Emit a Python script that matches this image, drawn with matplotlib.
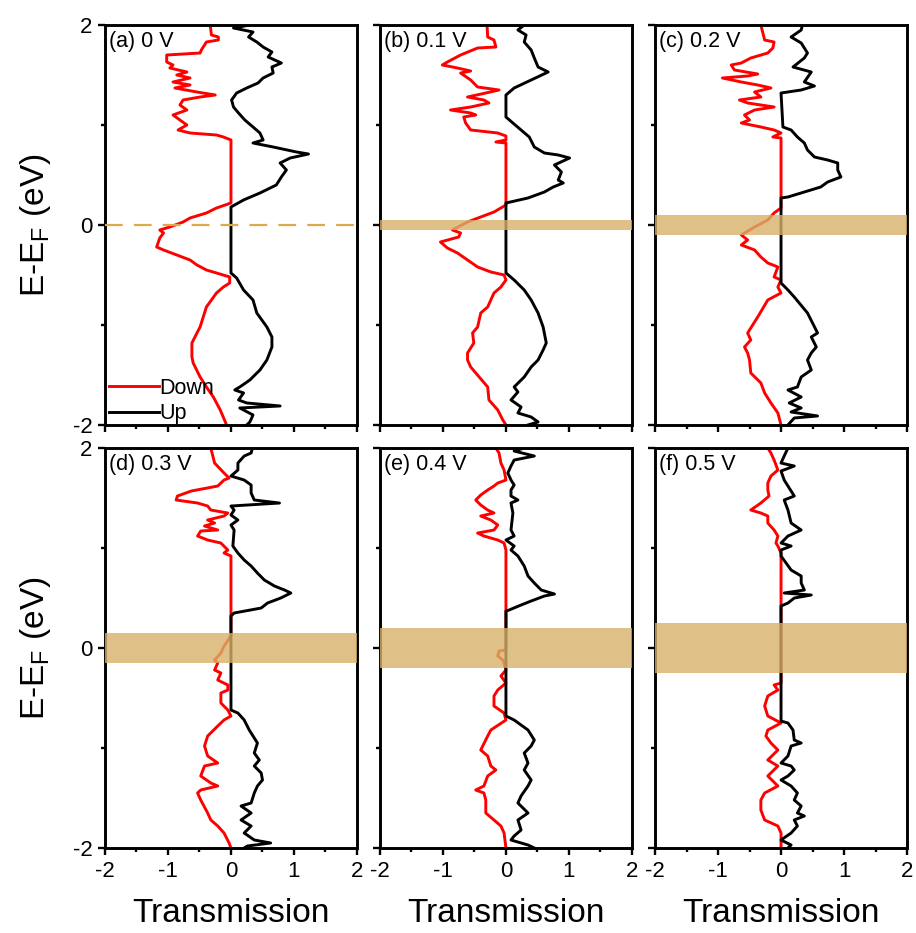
import numpy as np
import matplotlib
matplotlib.use("Agg")
import matplotlib.pyplot as plt
from matplotlib.ticker import MultipleLocator

plt.rcParams["font.family"] = ["Liberation Sans", "DejaVu Sans"]
plt.rcParams["mathtext.fontset"] = "custom"
plt.rcParams["mathtext.rm"] = "Liberation Sans"
plt.rcParams["mathtext.it"] = "Liberation Sans:italic"
plt.rcParams["axes.unicode_minus"] = False

# Bias voltages and panel tags
bias_volts = [0.0, 0.1, 0.2, 0.3, 0.4, 0.5]
panel_tags = ["(a)", "(b)", "(c)", "(d)", "(e)", "(f)"]

# Spin-resolved transmission T(E), stored as (E - E_F [eV], T) pairs.
# Spin-down channel is plotted as negative transmission.
down_a = [(2.00, -0.33), (1.90, -0.31), (1.88, -0.20), (1.85, -0.20), (1.83, -0.39),
          (1.75, -0.47), (1.72, -0.49), (1.70, -1.02), (1.63, -1.02), (1.60, -0.92),
          (1.57, -0.97), (1.53, -0.70), (1.50, -0.86), (1.47, -0.65), (1.43, -0.92),
          (1.40, -0.65), (1.37, -0.89), (1.33, -0.54), (1.30, -0.25), (1.28, -0.49),
          (1.25, -0.76), (1.20, -0.81), (1.15, -0.70), (1.10, -0.92), (1.05, -0.81),
          (1.00, -0.70), (0.95, -0.84), (0.92, -0.65), (0.90, -0.23), (0.88, -0.12),
          (0.85, 0.00), (0.22, 0.00), (0.17, -0.23), (0.12, -0.39), (0.07, -0.65),
          (0.03, -0.76), (-0.02, -0.97), (-0.05, -1.13), (-0.08, -1.07), (-0.13, -1.13),
          (-0.22, -1.18), (-0.25, -1.07), (-0.30, -0.86), (-0.35, -0.65), (-0.40, -0.54),
          (-0.45, -0.39), (-0.48, -0.23), (-0.52, -0.02), (-0.58, -0.02), (-0.62, -0.12),
          (-0.68, -0.23), (-0.82, -0.39), (-0.92, -0.44), (-1.02, -0.49), (-1.08, -0.54),
          (-1.18, -0.62), (-1.32, -0.62), (-1.38, -0.60), (-1.52, -0.49), (-1.62, -0.39),
          (-1.72, -0.28), (-1.85, -0.17), (-2.00, -0.07)]
up_a = [(2.00, 0.30), (1.97, 0.04), (1.93, 0.35), (1.88, 0.28), (1.83, 0.41),
        (1.78, 0.51), (1.73, 0.65), (1.68, 0.59), (1.62, 0.80), (1.58, 0.65),
        (1.52, 0.67), (1.47, 0.51), (1.42, 0.43), (1.37, 0.25), (1.32, 0.09),
        (1.25, 0.01), (1.18, 0.04), (1.12, 0.12), (1.05, 0.22), (0.98, 0.35),
        (0.92, 0.46), (0.85, 0.51), (0.82, 0.35), (0.78, 0.67), (0.73, 1.04),
        (0.71, 1.23), (0.67, 0.94), (0.62, 0.78), (0.55, 0.88), (0.48, 0.80),
        (0.40, 0.72), (0.32, 0.46), (0.25, 0.20), (0.18, 0.00), (-0.48, 0.00),
        (-0.53, 0.09), (-0.65, 0.20), (-0.75, 0.35), (-0.88, 0.41), (-1.02, 0.57),
        (-1.12, 0.65), (-1.22, 0.65), (-1.35, 0.57), (-1.45, 0.46), (-1.55, 0.30),
        (-1.62, 0.14), (-1.65, 0.06), (-1.68, 0.20), (-1.75, 0.12), (-1.78, 0.25),
        (-1.81, 0.78), (-1.83, 0.14), (-1.90, 0.35), (-1.97, 0.30), (-2.00, 0.25)]

down_b = [(2.00, -0.30), (1.88, -0.29), (1.85, -0.19), (1.78, -0.16), (1.77, -0.45),
          (1.70, -0.72), (1.63, -0.93), (1.60, -1.01), (1.57, -0.77), (1.54, -0.56),
          (1.52, -0.72), (1.45, -0.56), (1.38, -0.45), (1.35, -0.11), (1.32, -0.32),
          (1.28, -0.61), (1.25, -0.35), (1.22, -0.27), (1.18, -0.56), (1.15, -0.88),
          (1.12, -0.56), (1.10, -0.48), (1.08, -0.67), (1.02, -0.64), (0.95, -0.56),
          (0.92, -0.13), (0.89, 0.00), (0.85, 0.00), (0.83, -0.16), (0.82, 0.00),
          (0.20, 0.00), (0.13, -0.19), (0.08, -0.40), (0.03, -0.61), (-0.05, -0.85),
          (-0.08, -0.72), (-0.12, -0.75), (-0.17, -1.04), (-0.23, -0.93), (-0.28, -0.77),
          (-0.35, -0.61), (-0.42, -0.45), (-0.47, -0.24), (-0.50, -0.03), (-0.55, 0.00),
          (-0.62, -0.08), (-0.68, -0.19), (-0.82, -0.29), (-0.88, -0.40), (-1.02, -0.45),
          (-1.08, -0.53), (-1.18, -0.51), (-1.28, -0.61), (-1.35, -0.61), (-1.42, -0.56),
          (-1.62, -0.29), (-1.75, -0.27), (-1.85, -0.13), (-1.95, -0.05), (-2.00, 0.00)]
up_b = [(2.00, 0.29), (1.95, 0.19), (1.90, 0.32), (1.83, 0.29), (1.75, 0.40),
        (1.67, 0.45), (1.58, 0.51), (1.53, 0.67), (1.45, 0.40), (1.37, 0.13),
        (1.30, 0.00), (1.08, 0.00), (1.02, 0.11), (0.95, 0.24), (0.88, 0.37),
        (0.78, 0.45), (0.72, 0.61), (0.70, 0.83), (0.67, 1.01), (0.60, 0.77),
        (0.53, 0.88), (0.45, 0.83), (0.42, 0.91), (0.38, 0.75), (0.33, 0.61),
        (0.27, 0.35), (0.22, 0.00), (-0.48, 0.00), (-0.55, 0.13), (-0.65, 0.29),
        (-0.75, 0.40), (-0.88, 0.51), (-1.02, 0.59), (-1.18, 0.64), (-1.25, 0.59),
        (-1.35, 0.51), (-1.42, 0.40), (-1.52, 0.29), (-1.62, 0.13), (-1.67, 0.19),
        (-1.75, 0.08), (-1.82, 0.24), (-1.88, 0.19), (-1.92, 0.40), (-1.97, 0.51),
        (-2.00, 0.35)]

down_c = [(2.00, -0.32), (1.85, -0.26), (1.83, -0.11), (1.77, -0.13), (1.72, -0.21),
          (1.67, -0.48), (1.62, -0.63), (1.60, -0.79), (1.55, -0.74), (1.51, -0.37),
          (1.49, -0.53), (1.47, -0.93), (1.43, -0.63), (1.40, -0.37), (1.37, -0.16),
          (1.33, -0.42), (1.28, -0.32), (1.25, -0.66), (1.22, -0.53), (1.18, -0.11),
          (1.15, -0.42), (1.10, -0.58), (1.05, -0.50), (1.02, -0.63), (0.98, -0.32),
          (0.95, -0.11), (0.92, 0.00), (0.88, -0.13), (0.87, 0.00), (0.17, 0.00),
          (0.12, -0.11), (0.05, -0.21), (-0.02, -0.42), (-0.10, -0.63), (-0.15, -0.53),
          (-0.20, -0.63), (-0.25, -0.42), (-0.32, -0.32), (-0.38, -0.21), (-0.42, -0.05),
          (-0.52, -0.11), (-0.55, 0.00), (-0.62, -0.05), (-0.68, 0.00), (-0.75, -0.21),
          (-0.92, -0.37), (-1.08, -0.53), (-1.15, -0.48), (-1.22, -0.58), (-1.28, -0.53),
          (-1.35, -0.50), (-1.48, -0.48), (-1.58, -0.32), (-1.68, -0.26), (-1.78, -0.16),
          (-1.88, -0.05), (-2.00, 0.00)]
up_c = [(2.00, 0.34), (1.95, 0.32), (1.88, 0.16), (1.82, 0.32), (1.72, 0.42),
        (1.67, 0.37), (1.58, 0.19), (1.53, 0.48), (1.43, 0.37), (1.39, 0.53),
        (1.35, 0.32), (1.32, 0.00), (0.98, 0.03), (0.95, 0.16), (0.88, 0.26),
        (0.82, 0.37), (0.75, 0.42), (0.68, 0.53), (0.65, 0.74), (0.62, 0.90),
        (0.55, 0.90), (0.48, 0.95), (0.43, 0.74), (0.38, 0.63), (0.33, 0.37),
        (0.28, 0.11), (0.27, 0.00), (-0.58, 0.00), (-0.65, 0.11), (-0.72, 0.21),
        (-0.88, 0.42), (-1.08, 0.58), (-1.12, 0.48), (-1.22, 0.56), (-1.28, 0.48),
        (-1.35, 0.42), (-1.45, 0.48), (-1.52, 0.32), (-1.62, 0.26), (-1.65, 0.11),
        (-1.72, 0.32), (-1.78, 0.13), (-1.83, 0.32), (-1.87, 0.16), (-1.91, 0.58),
        (-1.93, 0.21), (-2.00, 0.11)]

down_d = [(2.00, -0.32), (1.85, -0.26), (1.75, -0.11), (1.70, -0.03), (1.68, -0.11),
          (1.62, -0.21), (1.57, -0.63), (1.52, -0.85), (1.48, -0.87), (1.45, -0.53),
          (1.42, -0.37), (1.38, -0.32), (1.35, -0.05), (1.32, -0.11), (1.28, -0.37),
          (1.25, -0.26), (1.22, -0.42), (1.18, -0.21), (1.17, -0.48), (1.12, -0.53),
          (1.08, -0.37), (1.05, -0.16), (0.98, -0.05), (0.95, -0.11), (0.92, 0.00),
          (0.12, 0.00), (0.02, -0.11), (-0.05, -0.16), (-0.12, -0.26), (-0.15, -0.21),
          (-0.22, -0.26), (-0.25, -0.16), (-0.32, -0.21), (-0.37, -0.05), (-0.42, -0.05),
          (-0.45, -0.16), (-0.55, -0.16), (-0.62, -0.05), (-0.68, 0.00), (-0.72, -0.11),
          (-0.78, -0.21), (-0.88, -0.37), (-0.98, -0.42), (-1.08, -0.37), (-1.15, -0.21),
          (-1.18, -0.42), (-1.28, -0.48), (-1.35, -0.32), (-1.38, -0.21), (-1.42, -0.48),
          (-1.45, -0.53), (-1.52, -0.48), (-1.65, -0.37), (-1.72, -0.32), (-1.78, -0.21),
          (-1.85, -0.11), (-1.95, -0.03), (-2.00, 0.00)]
up_d = [(2.00, 0.34), (1.95, 0.32), (1.92, 0.21), (1.85, 0.11), (1.78, 0.11),
        (1.72, 0.00), (1.68, 0.21), (1.63, 0.32), (1.55, 0.32), (1.48, 0.37),
        (1.45, 0.77), (1.42, 0.00), (1.38, 0.05), (1.33, 0.00), (1.28, 0.11),
        (1.23, 0.00), (1.18, 0.05), (1.02, 0.03), (0.95, 0.11), (0.88, 0.21),
        (0.82, 0.32), (0.75, 0.42), (0.68, 0.53), (0.62, 0.69), (0.58, 0.85),
        (0.55, 0.95), (0.50, 0.79), (0.45, 0.58), (0.40, 0.48), (0.35, 0.05),
        (0.32, 0.00), (-0.62, 0.00), (-0.65, 0.11), (-0.72, 0.21), (-0.82, 0.29),
        (-0.95, 0.42), (-1.05, 0.37), (-1.12, 0.45), (-1.18, 0.37), (-1.25, 0.48),
        (-1.32, 0.50), (-1.38, 0.42), (-1.45, 0.37), (-1.55, 0.32), (-1.58, 0.16),
        (-1.65, 0.32), (-1.72, 0.16), (-1.78, 0.32), (-1.85, 0.21), (-1.92, 0.37),
        (-1.95, 0.63), (-1.98, 0.26), (-2.00, 0.21)]

down_e = [(2.00, -0.16), (1.95, -0.11), (1.85, -0.08), (1.78, -0.03), (1.68, 0.00),
          (1.65, -0.13), (1.62, -0.19), (1.58, -0.29), (1.53, -0.40), (1.48, -0.48),
          (1.43, -0.40), (1.38, -0.29), (1.35, -0.19), (1.32, -0.40), (1.28, -0.24),
          (1.23, -0.13), (1.18, -0.19), (1.15, -0.45), (1.12, -0.35), (1.08, -0.13),
          (1.05, -0.03), (0.98, 0.00), (-0.02, 0.00), (-0.03, -0.11), (-0.08, -0.13),
          (-0.12, -0.05), (-0.15, -0.03), (-0.22, 0.00), (-0.28, -0.08), (-0.35, 0.00),
          (-0.42, -0.13), (-0.48, -0.19), (-0.58, -0.19), (-0.65, -0.03), (-0.72, 0.00),
          (-0.82, -0.24), (-0.88, -0.29), (-1.02, -0.40), (-1.08, -0.29), (-1.18, -0.24),
          (-1.22, -0.16), (-1.28, -0.29), (-1.38, -0.35), (-1.42, -0.48), (-1.45, -0.35),
          (-1.52, -0.32), (-1.65, -0.32), (-1.72, -0.19), (-1.78, -0.08), (-1.85, -0.03),
          (-2.00, 0.00)]
up_e = [(2.00, 0.29), (1.97, 0.13), (1.92, 0.45), (1.88, 0.13), (1.82, 0.08),
        (1.75, 0.03), (1.68, 0.08), (1.63, 0.13), (1.58, 0.08), (1.52, 0.08),
        (1.48, 0.19), (1.45, 0.08), (1.35, 0.11), (1.18, 0.08), (1.12, 0.13),
        (1.08, 0.00), (1.02, 0.13), (0.98, 0.08), (0.92, 0.19), (0.82, 0.29),
        (0.72, 0.35), (0.65, 0.45), (0.58, 0.56), (0.54, 0.77), (0.52, 0.61),
        (0.47, 0.40), (0.43, 0.24), (0.38, 0.05), (0.37, 0.00), (-0.68, 0.00),
        (-0.72, 0.13), (-0.82, 0.35), (-0.92, 0.45), (-0.98, 0.40), (-1.05, 0.29),
        (-1.15, 0.35), (-1.22, 0.29), (-1.32, 0.40), (-1.38, 0.35), (-1.48, 0.24),
        (-1.55, 0.19), (-1.65, 0.35), (-1.72, 0.19), (-1.82, 0.24), (-1.88, 0.13),
        (-1.92, 0.08), (-1.97, 0.35), (-2.00, 0.45)]

down_f = [(2.00, -0.21), (1.95, -0.16), (1.88, -0.11), (1.78, -0.05), (1.72, -0.16),
          (1.65, -0.21), (1.58, -0.21), (1.52, -0.19), (1.45, -0.32), (1.38, -0.48),
          (1.35, -0.32), (1.32, -0.21), (1.25, -0.21), (1.18, -0.11), (1.12, -0.05),
          (1.05, -0.08), (1.02, -0.05), (0.95, 0.00), (-0.35, 0.00), (-0.37, -0.11),
          (-0.42, -0.05), (-0.48, -0.21), (-0.58, -0.26), (-0.68, -0.21), (-0.75, 0.00),
          (-0.82, -0.21), (-0.88, -0.24), (-0.95, -0.16), (-1.02, -0.05), (-1.12, -0.21),
          (-1.18, -0.05), (-1.28, -0.21), (-1.38, -0.05), (-1.45, -0.26), (-1.52, -0.32),
          (-1.62, -0.32), (-1.72, -0.26), (-1.78, -0.05), (-1.85, 0.00), (-2.00, 0.00)]
up_f = [(2.00, 0.11), (1.92, 0.05), (1.85, 0.00), (1.82, 0.21), (1.77, 0.00),
        (1.68, 0.05), (1.62, 0.11), (1.52, 0.21), (1.48, 0.05), (1.38, 0.11),
        (1.25, 0.16), (1.18, 0.32), (1.12, 0.11), (1.05, 0.00), (1.02, 0.16),
        (0.98, 0.00), (0.92, 0.00), (0.78, 0.16), (0.72, 0.32), (0.65, 0.32),
        (0.58, 0.37), (0.55, 0.05), (0.53, 0.48), (0.50, 0.21), (0.45, 0.11),
        (0.42, 0.00), (-0.73, 0.00), (-0.75, 0.11), (-0.82, 0.19), (-0.92, 0.21),
        (-0.95, 0.32), (-0.98, 0.16), (-1.08, 0.11), (-1.15, 0.00), (-1.18, 0.16),
        (-1.22, 0.21), (-1.28, 0.11), (-1.32, 0.00), (-1.38, 0.16), (-1.45, 0.26),
        (-1.52, 0.21), (-1.58, 0.32), (-1.65, 0.26), (-1.68, 0.37), (-1.72, 0.21),
        (-1.78, 0.26), (-1.85, 0.16), (-1.92, 0.00), (-1.97, 0.16), (-2.00, 0.11)]

down_curves = [down_a, down_b, down_c, down_d, down_e, down_f]
up_curves = [up_a, up_b, up_c, up_d, up_e, up_f]

RED = "#ff0000"
WINDOW = "#d7b26a"
DASH = "#dcaa4c"

fig = plt.figure(figsize=(9.16, 9.33), dpi=100)
col_left = [0.1146, 0.4148, 0.7151]
row_bottom = [0.5445, 0.0911]
ax_w, ax_h = 0.2751, 0.4287

axes = []
for i, volt in enumerate(bias_volts):
    r, c = divmod(i, 3)
    ax = fig.add_axes([col_left[c], row_bottom[r], ax_w, ax_h])
    axes.append(ax)

    e_dn, t_dn = zip(*down_curves[i])
    e_up, t_up = zip(*up_curves[i])
    ax.plot(t_dn, e_dn, color=RED, lw=2.1, label="Down", zorder=2)
    ax.plot(t_up, e_up, color="black", lw=2.1, label="Up", zorder=2.5)

    # bias window [-V/2, V/2]
    if volt == 0:
        ax.axhline(0, color=DASH, lw=1.6, ls=(0, (8, 5)), zorder=3)
    else:
        ax.axhspan(-volt / 2, volt / 2, color=WINDOW, alpha=0.8, lw=0, zorder=3)

    ax.set_xlim(-2, 2)
    ax.set_ylim(-2, 2)
    ax.xaxis.set_major_locator(MultipleLocator(1))
    ax.xaxis.set_minor_locator(MultipleLocator(0.5))
    ax.yaxis.set_major_locator(MultipleLocator(2))
    ax.yaxis.set_minor_locator(MultipleLocator(1))
    ax.tick_params(which="both", direction="out", width=1.7, labelsize=16,
                   top=False, right=False, pad=4)
    ax.tick_params(which="major", length=5)
    ax.tick_params(which="minor", length=3)
    for sp in ax.spines.values():
        sp.set_linewidth(2.1)

    ax.text(0.015, 0.985, f"{panel_tags[i]} {volt:g} V", transform=ax.transAxes,
            ha="left", va="top", fontsize=15.5, zorder=5)

    if r == 0:
        ax.tick_params(labelbottom=False)
    else:
        ax.set_xlabel("Transmission", fontsize=24, labelpad=12)
    if c > 0:
        ax.tick_params(labelleft=False)
    else:
        ax.set_ylabel(r"E-E$_\mathrm{F}$ (eV)", fontsize=24, labelpad=14)

axes[0].legend(loc="lower left", bbox_to_anchor=(-0.005, -0.012), frameon=False,
               fontsize=15.5, handlelength=2.3, handletextpad=0.05,
               labelspacing=0.22, borderpad=0.25, borderaxespad=0)

fig.savefig("out.png", dpi=100)
